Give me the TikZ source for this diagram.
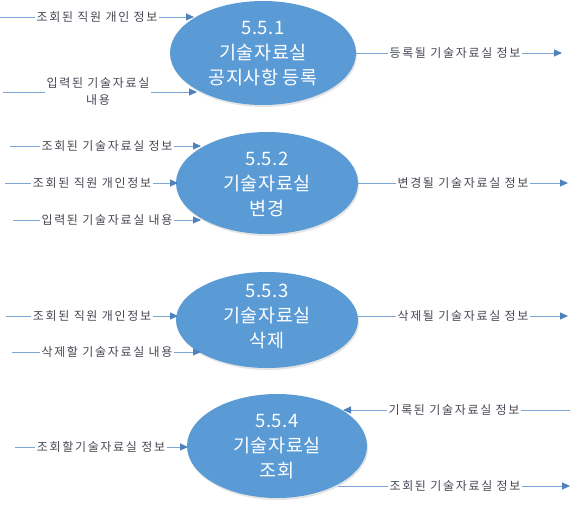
\documentclass[tikz,border=0pt]{standalone}
\usepackage{fontspec}
\setmainfont{Noto Sans CJK KR}
\newfontfamily\labfont[LetterSpace=14]{Noto Sans CJK KR}
\newfontfamily\ellfont[LetterSpace=3]{Noto Sans CJK KR}
\usetikzlibrary{arrows.meta,shapes.geometric,shadows}
\definecolor{ellfill}{RGB}{91,155,213}
\definecolor{linec}{RGB}{125,165,212}
\definecolor{tipc}{RGB}{79,129,189}
\definecolor{txt}{RGB}{72,72,84}
\begin{document}
\begin{tikzpicture}[x=1pt,y=-1pt,
 proc/.style={ellipse, fill=ellfill, draw=none, inner sep=0pt,
   drop shadow={shadow xshift=1pt,shadow yshift=-2pt,opacity=0.2}},
 proctext/.style={text=white, font=\ellfont\fontsize{18.5}{25}\selectfont, align=center, inner sep=0pt},
 lab/.style={font=\labfont\fontsize{12}{17}\selectfont, text=txt, inner sep=1.5pt, align=center},
 ln/.style={draw=linec, line width=0.9pt},
 arr/.style={ln, -{Triangle[length=8pt,width=7pt,color=tipc]}},
]
\useasboundingbox[fill=white] (0,0) rectangle (572,508);

% ---- 5.5.1
\node[proc, minimum width=186pt, minimum height=104pt] (e1) at (263,53) {};
\node[proctext] (e1t) at (263,54) {5.5.1\\기술자료실\\공지사항 등록};
\node[lab] (l11) at (97,17) {조회된 직원 개인 정보};
\node[lab] (l12) at (98,92) {입력된 기술자료실\\내용};
\node[lab] (l13) at (455,53) {등록될 기술자료실 정보};
\coordinate (s11) at (0,17);   \coordinate (t11) at (194,17);
\coordinate (s12) at (3,92);   \coordinate (t12) at (197,92);
\coordinate (o13) at (356,53); \coordinate (t13) at (562,53);
\draw[ln] (s11) -- (l11.west); \draw[arr] (l11.east) -- (t11);
\draw[ln] (s12) -- (l12.west); \draw[arr] (l12.east) -- (t12);
\draw[ln] (o13) -- (l13.west); \draw[arr] (l13.east) -- (t13);

% ---- 5.5.2
\node[proc, minimum width=182pt, minimum height=102pt] (e2) at (267,183) {};
\node[proctext] (e2t) at (267,184) {5.5.2\\기술자료실\\변경};
\node[lab] (l21) at (107,146) {조회된 기술자료실 정보};
\node[lab] (l22) at (92,183) {조회된 직원 개인정보};
\node[lab] (l23) at (107,220) {입력된 기술자료실 내용};
\node[lab] (l24) at (463,183) {변경될 기술자료실 정보};
\coordinate (s21) at (10,146); \coordinate (t21) at (201,146);
\coordinate (s22) at (5,183);  \coordinate (t22) at (178,183);
\coordinate (s23) at (13,220); \coordinate (t23) at (201,220);
\coordinate (t24) at (568,183);
\draw[ln] (s21) -- (l21.west); \draw[arr] (l21.east) -- (t21);
\draw[ln] (s22) -- (l22.west); \draw[arr] (l22.east) -- (t22);
\draw[ln] (s23) -- (l23.west); \draw[arr] (l23.east) -- (t23);
\draw[ln] (e2.east) -- (l24.west); \draw[arr] (l24.east) -- (t24);

% ---- 5.5.3
\node[proc, minimum width=182pt, minimum height=96pt] (e3) at (267,320) {};
\node[proctext] (e3t) at (267,317) {5.5.3\\기술자료실\\삭제};
\node[lab] (l31) at (92,316) {조회된 직원 개인정보};
\node[lab] (l32) at (107,352) {삭제할 기술자료실 내용};
\node[lab] (l33) at (463,316) {삭제될 기술자료실 정보};
\coordinate (s31) at (6,316);  \coordinate (t31) at (178,316);
\coordinate (s32) at (12,352); \coordinate (t32) at (201,352);
\coordinate (o33) at (358,316); \coordinate (t33) at (568,316);
\draw[ln] (s31) -- (l31.west); \draw[arr] (l31.east) -- (t31);
\draw[ln] (s32) -- (l32.west); \draw[arr] (l32.east) -- (t32);
\draw[ln] (o33) -- (l33.west); \draw[arr] (l33.east) -- (t33);

% ---- 5.5.4
\node[proc, minimum width=180pt, minimum height=104pt] (e4) at (277,446) {};
\node[proctext] (e4t) at (277,447) {5.5.4\\기술자료실\\조회};
\node[lab] (l41) at (101,447) {조회할기술자료실 정보};
\node[lab] (l42) at (454,410) {기록된 기술자료실 정보};
\node[lab] (l43) at (455,486) {조회된 기술자료실 정보};
\coordinate (s41) at (15,447);  \coordinate (t41) at (188,447);
\coordinate (s42) at (570,410); \coordinate (t42) at (343,410);
\coordinate (o43) at (338,486); \coordinate (t43) at (570,486);
\draw[ln] (s41) -- (l41.west); \draw[arr] (l41.east) -- (t41);
\draw[ln] (s42) -- (l42.east); \draw[arr] (l42.west) -- (t42);
\draw[ln] (o43) -- (l43.west); \draw[arr] (l43.east) -- (t43);
\end{tikzpicture}
\end{document}
